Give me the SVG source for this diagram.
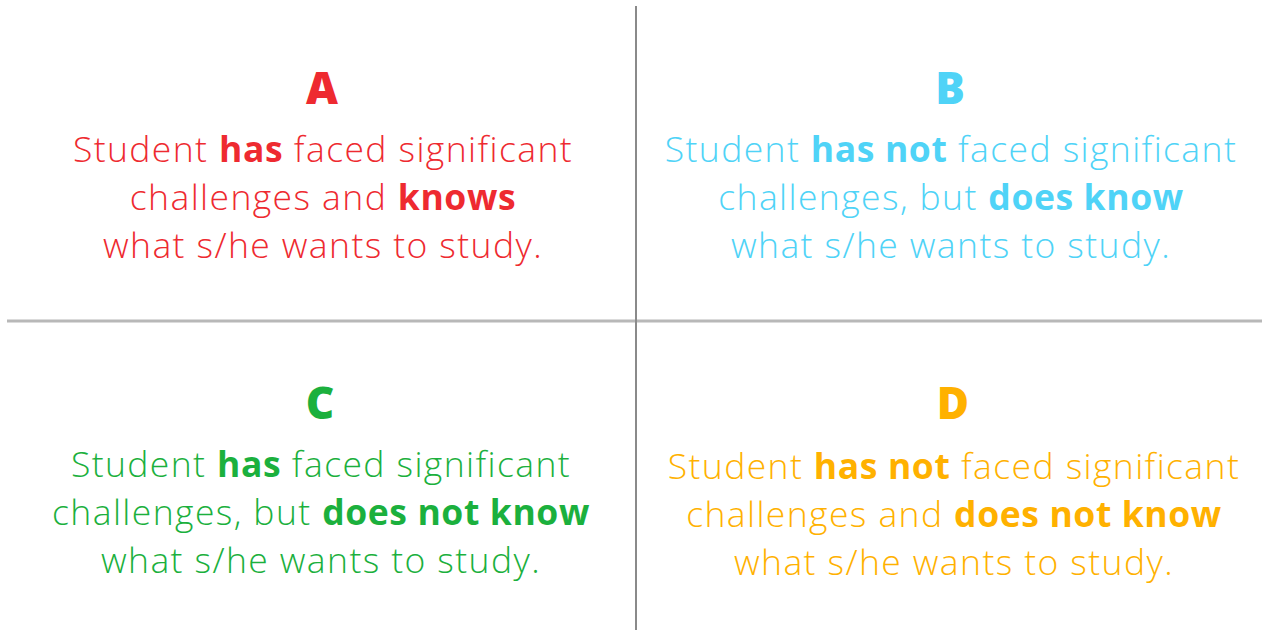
<svg xmlns="http://www.w3.org/2000/svg" width="1264" height="630" viewBox="0 0 1264 630">
  <style>
    .t { font-family: "Open Sans", Lato, sans-serif; font-size: 35.5px; text-anchor: middle; font-weight: 300; letter-spacing: 1.4px; }
    .h { font-family: "Open Sans", Lato, sans-serif; font-size: 44px; text-anchor: middle; font-weight: 800; }
    .b { font-weight: 700; letter-spacing: 0.6px; }
    .red { fill: #ee2a30; }
    .blue { fill: #4fd3f7; }
    .green { fill: #1bb03d; }
    .orange { fill: #ffb100; }
  </style>
  <rect width="1264" height="630" fill="#ffffff"/>
  <g id="connectors">
    <line x1="7" y1="321" x2="1262" y2="321" stroke="#b8b8b8" stroke-width="3"/>
    <line x1="636" y1="6" x2="636" y2="630" stroke="#8a8a8a" stroke-width="2"/>
  </g>
  <g id="A" class="red">
    <text class="h" x="322" y="104">A</text>
    <text class="t" x="323" y="162">Student <tspan class="b">has</tspan> faced significant</text>
    <text class="t" x="323" y="210">challenges and <tspan class="b">knows</tspan></text>
    <text class="t" x="323" y="258">what s/he wants to study.</text>
  </g>
  <g id="B" class="blue">
    <text class="h" x="950" y="104">B</text>
    <text class="t" x="951" y="162">Student <tspan class="b">has not</tspan> faced significant</text>
    <text class="t" x="951" y="210">challenges, but <tspan class="b">does know</tspan></text>
    <text class="t" x="951" y="258">what s/he wants to study.</text>
  </g>
  <g id="C" class="green">
    <text class="h" x="320" y="419">C</text>
    <text class="t" x="321" y="477">Student <tspan class="b">has</tspan> faced significant</text>
    <text class="t" x="321" y="525">challenges, but <tspan class="b">does not know</tspan></text>
    <text class="t" x="321" y="573">what s/he wants to study.</text>
  </g>
  <g id="D" class="orange">
    <text class="h" x="953" y="419">D</text>
    <text class="t" x="954" y="479">Student <tspan class="b">has not</tspan> faced significant</text>
    <text class="t" x="954" y="527">challenges and <tspan class="b">does not know</tspan></text>
    <text class="t" x="954" y="575">what s/he wants to study.</text>
  </g>
</svg>
